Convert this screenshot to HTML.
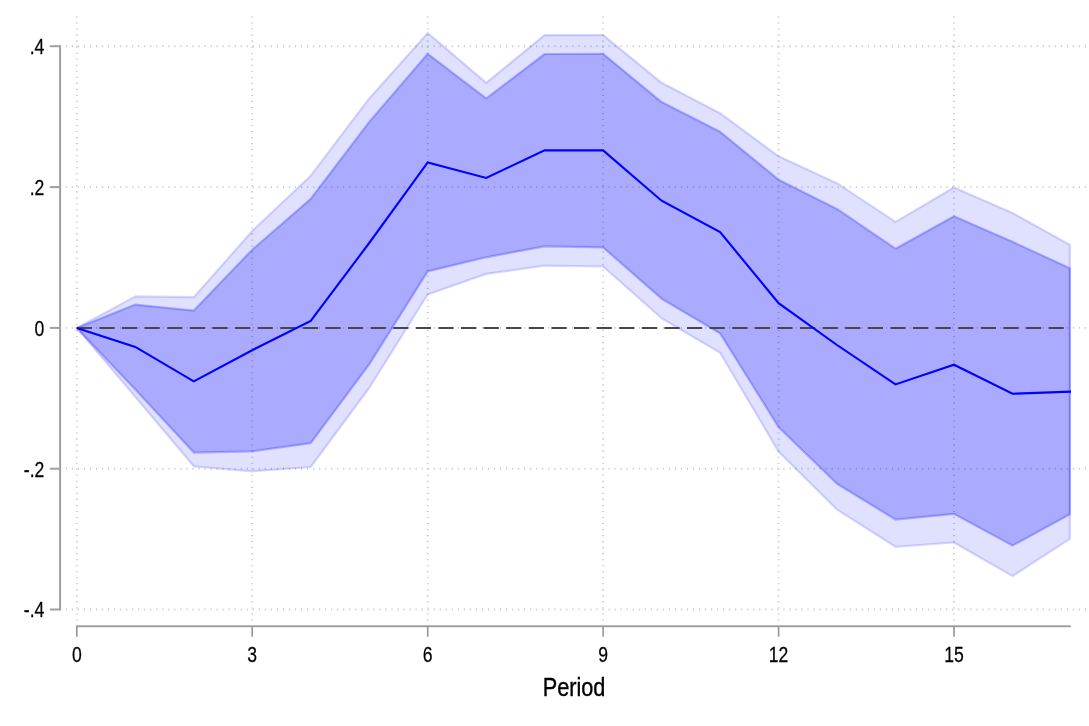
<!DOCTYPE html>
<html lang="en">
<head>
<meta charset="utf-8">
<title>Period</title>
<style>
html,body{margin:0;padding:0;background:#fff;}
body{width:1089px;height:726px;overflow:hidden;}
svg{display:block;}
text{font-family:"Liberation Sans",Arial,sans-serif;fill:#000;}
</style>
</head>
<body>
<svg width="1089" height="726" viewBox="0 0 1089 726">
<rect x="0" y="0" width="1089" height="726" fill="#ffffff"/>

<g stroke="#c8c8c8" stroke-width="1.9" stroke-dasharray="1.1 4.93" fill="none">
<line x1="65.83" y1="46.2" x2="1089" y2="46.2"/>
<line x1="65.83" y1="187.1" x2="1089" y2="187.1"/>
<line x1="65.83" y1="327.9" x2="1089" y2="327.9"/>
<line x1="65.83" y1="468.7" x2="1089" y2="468.7"/>
<line x1="65.83" y1="609.5" x2="1089" y2="609.5"/>
<line x1="76.8" y1="16.45" x2="76.8" y2="621"/>
<line x1="252.2" y1="16.45" x2="252.2" y2="621"/>
<line x1="427.7" y1="16.45" x2="427.7" y2="621"/>
<line x1="603.1" y1="16.45" x2="603.1" y2="621"/>
<line x1="778.6" y1="16.45" x2="778.6" y2="621"/>
<line x1="954.0" y1="16.45" x2="954.0" y2="621"/>
</g>
<polygon points="76.8,327.9 135.3,296.4 193.8,297.2 252.2,231.0 310.7,175.7 369.2,98.4 427.7,32.9 486.2,82.8 544.6,35.1 603.1,35.1 661.6,82.8 720.1,113.2 778.6,156.3 837.0,183.2 895.5,221.9 954.0,187.5 1012.5,213.0 1069.9,244.8 1069.9,538.8 1012.5,576.1 954.0,542.5 895.5,546.8 837.0,509.6 778.6,451.6 720.1,352.7 661.6,318.3 603.1,266.5 544.6,265.6 486.2,273.9 427.7,294.5 369.2,388.0 310.7,467.0 252.2,471.3 193.8,466.3 135.3,396.9 76.8,327.9" fill="#0000ff" fill-opacity="0.12" stroke="#0000ff" stroke-opacity="0.15" stroke-width="2.2" stroke-linejoin="round"/>
<polygon points="76.8,327.9 135.3,304.6 193.8,310.6 252.2,249.7 310.7,198.8 369.2,121.9 427.7,53.8 486.2,98.4 544.6,54.0 603.1,53.8 661.6,102.1 720.1,131.8 778.6,179.7 837.0,208.9 895.5,248.7 954.0,216.3 1012.5,241.8 1069.9,268.2 1069.9,514.2 1012.5,545.6 954.0,513.9 895.5,519.6 837.0,483.8 778.6,427.2 720.1,333.4 661.6,298.7 603.1,247.4 544.6,246.3 486.2,257.3 427.7,271.4 369.2,364.4 310.7,443.2 252.2,451.3 193.8,452.6 135.3,389.5 76.8,327.9" fill="#0000ff" fill-opacity="0.24" stroke="#0000ff" stroke-opacity="0.24" stroke-width="2.2" stroke-linejoin="round"/>
<line x1="76.8" y1="328" x2="1071.0" y2="328" stroke="#474747" stroke-width="2.1" stroke-dasharray="15.2 7.4"/>
<polyline points="76.8,327.9 135.3,346.9 193.8,381.4 252.2,350.2 310.7,320.9 369.2,243.0 427.7,162.5 486.2,177.9 544.6,150.3 603.1,150.4 661.6,200.7 720.1,232.1 778.6,303.2 837.0,345.0 895.5,384.4 954.0,364.7 1012.5,393.8 1071.0,391.6" fill="none" stroke="#0000ff" stroke-width="2.1" stroke-linejoin="miter"/>
<g stroke="#a0a0a0" stroke-width="2" fill="none">
<path d="M60.1 45.2V610.5"/>
<path d="M49.8 46.2H60.1"/>
<path d="M49.8 187.1H60.1"/>
<path d="M49.8 327.9H60.1"/>
<path d="M49.8 468.7H60.1"/>
<path d="M49.8 609.5H60.1"/>
<path d="M76.1 626.2H1070.8"/>
<path d="M76.8 626.2V636.7" stroke-width="1.6" stroke="#949494"/>
<path d="M252.2 626.2V636.7" stroke-width="1.6" stroke="#949494"/>
<path d="M427.7 626.2V636.7" stroke-width="1.6" stroke="#949494"/>
<path d="M603.1 626.2V636.7" stroke-width="1.6" stroke="#949494"/>
<path d="M778.6 626.2V636.7" stroke-width="1.6" stroke="#949494"/>
<path d="M954.0 626.2V636.7" stroke-width="1.6" stroke="#949494"/>
</g>
<text transform="translate(44.3 53.8) scale(0.8 1)" font-size="22" text-anchor="end" stroke="#000" stroke-width="0.25">.4</text>
<text transform="translate(44.3 194.6) scale(0.8 1)" font-size="22" text-anchor="end" stroke="#000" stroke-width="0.25">.2</text>
<text transform="translate(44.3 335.5) scale(0.8 1)" font-size="22" text-anchor="end" stroke="#000" stroke-width="0.25">0</text>
<text transform="translate(44.3 476.9) scale(0.8 1)" font-size="22" text-anchor="end" stroke="#000" stroke-width="0.25">-.2</text>
<text transform="translate(44.3 617.4) scale(0.8 1)" font-size="22" text-anchor="end" stroke="#000" stroke-width="0.25">-.4</text>
<text transform="translate(76.8 661.6) scale(0.8 1)" font-size="22" text-anchor="middle" stroke="#000" stroke-width="0.25">0</text>
<text transform="translate(252.2 661.6) scale(0.8 1)" font-size="22" text-anchor="middle" stroke="#000" stroke-width="0.25">3</text>
<text transform="translate(427.7 661.6) scale(0.8 1)" font-size="22" text-anchor="middle" stroke="#000" stroke-width="0.25">6</text>
<text transform="translate(603.1 661.6) scale(0.8 1)" font-size="22" text-anchor="middle" stroke="#000" stroke-width="0.25">9</text>
<text transform="translate(778.6 661.6) scale(0.8 1)" font-size="22" text-anchor="middle" stroke="#000" stroke-width="0.25">12</text>
<text transform="translate(954.0 661.6) scale(0.8 1)" font-size="22" text-anchor="middle" stroke="#000" stroke-width="0.25">15</text>
<text transform="translate(574 695.8) scale(0.834 1)" font-size="26" text-anchor="middle" stroke="#000" stroke-width="0.4">Period</text>
</svg>
</body>
</html>
